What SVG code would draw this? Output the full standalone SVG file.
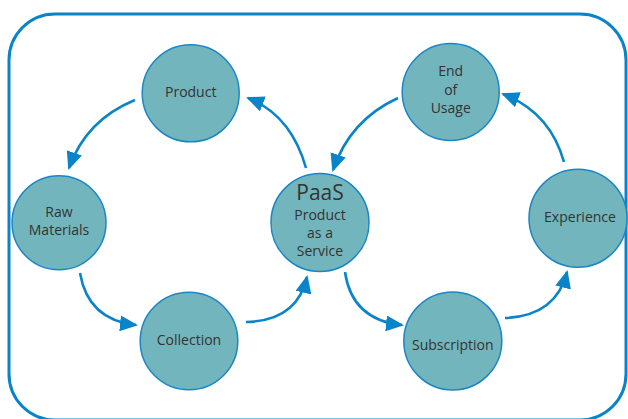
<svg xmlns="http://www.w3.org/2000/svg" width="628" height="419" viewBox="0 0 628 419">
<defs>
<style>
.node circle{fill:#73b5bc;stroke:#1a86c8;stroke-width:1.5}
.node text{font-family:"Open Sans","Noto Sans",sans-serif;font-size:14px;fill:#333;text-anchor:middle;dominant-baseline:central}
.conn path{fill:none;stroke:#0a84c8;stroke-width:2.6;marker-end:url(#ah)}
</style>
<marker id="ah" markerUnits="userSpaceOnUse" markerWidth="18" markerHeight="16" viewBox="0 0 18 16" refX="16" refY="8" orient="auto">
<path d="M0,0 L18,8 L0,16 Z" fill="#0a84c8"/>
</marker>
</defs>
<rect x="9" y="14" width="617" height="406" rx="46" ry="46" fill="#fff" stroke="#0a84c8" stroke-width="3"/>
<g id="connectors" class="conn">
<path d="M135,100 Q 86,120 69,168"/>
<path d="M80,273 Q 88,320 136,325"/>
<path d="M246,322 Q 297,321 307,277"/>
<path d="M306,168 Q 291,115 248,98"/>
<path d="M398,98 Q 350,120 333,170"/>
<path d="M345,272 Q 352,320 402,325"/>
<path d="M505,318 Q 556,316 567,272"/>
<path d="M564,162 Q 550,112 503,94"/>
</g>
<g id="product" class="node"><circle cx="190.7" cy="93.3" r="48.5"/><text x="190.7" y="91">Product</text></g>
<g id="raw-materials" class="node"><circle cx="59" cy="222.7" r="47"/><text x="59" y="211.5">Raw</text><text x="59" y="229.5">Materials</text></g>
<g id="collection" class="node"><circle cx="189" cy="341" r="48.8"/><text x="189" y="339">Collection</text></g>
<g id="paas" class="node"><circle cx="320" cy="222.5" r="49"/><text x="320" y="191.5" style="font-size:21px">PaaS</text><text x="320" y="214">Product</text><text x="320" y="232.5">as a</text><text x="320" y="250.5">Service</text></g>
<g id="subscription" class="node"><circle cx="452.8" cy="341" r="49"/><text x="452.8" y="344">Subscription</text></g>
<g id="experience" class="node"><circle cx="578" cy="218.3" r="49"/><text x="580" y="216">Experience</text></g>
<g id="end-of-usage" class="node"><circle cx="450.7" cy="92" r="48.5"/><text x="450.7" y="70.5">End</text><text x="450.7" y="89">of</text><text x="450.7" y="107.5">Usage</text></g>
</svg>
